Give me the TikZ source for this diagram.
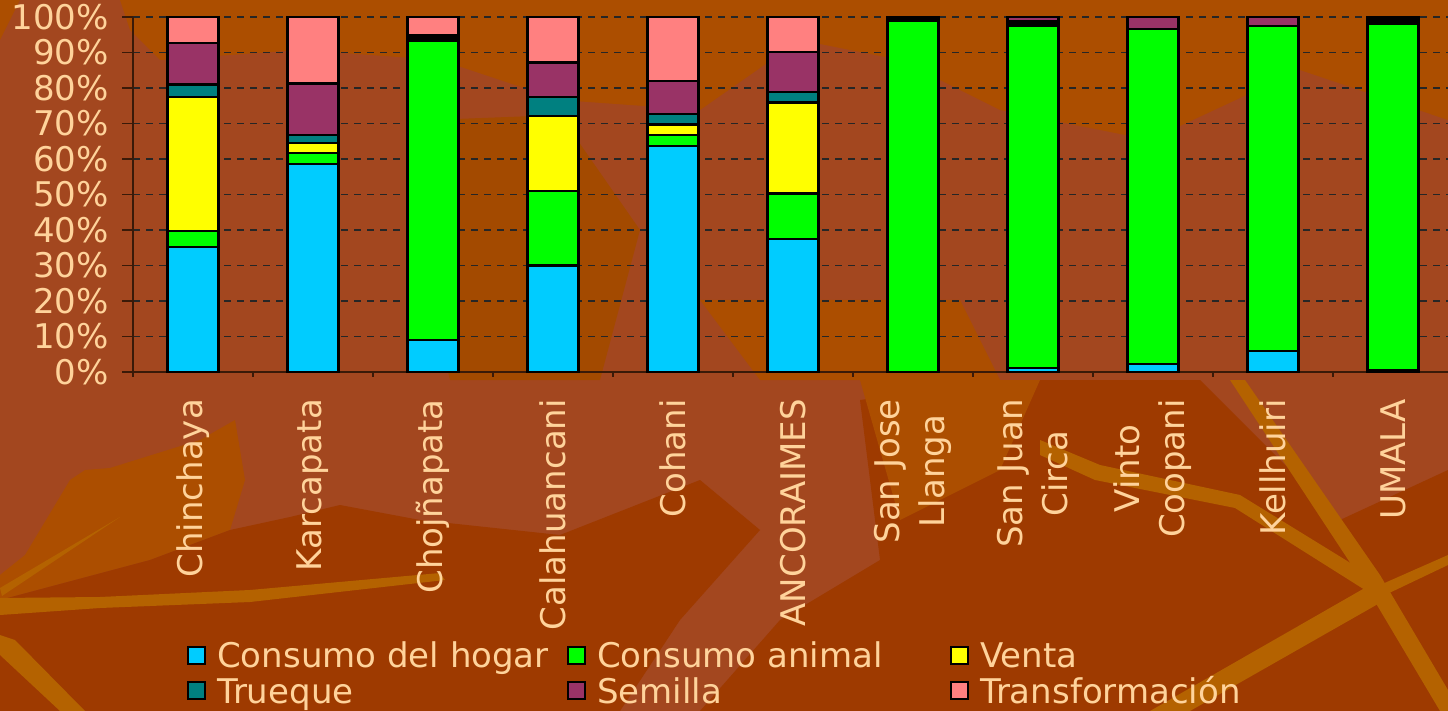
\documentclass[tikz,border=0pt]{standalone}
\usepackage{fontspec}
\setmainfont{DejaVu Sans}
\definecolor{txt}{HTML}{FFD39B}
\definecolor{cBlue}{HTML}{00CCFF}
\definecolor{cGreen}{HTML}{00FF00}
\definecolor{cYellow}{HTML}{FFFF00}
\definecolor{cTeal}{HTML}{008080}
\definecolor{cPurple}{HTML}{993366}
\definecolor{cPink}{HTML}{FF8080}
\definecolor{bgRed}{HTML}{A3471F}
\definecolor{bgOrg}{HTML}{AC4E00}
\definecolor{bgDark}{HTML}{9E3A00}
\definecolor{vein}{HTML}{B46200}
\definecolor{axisc}{HTML}{3A1A08}
\newcommand\barseg[4]{\filldraw[segstyle, fill=#4] ({#1-25.5},{372-3.55*#2}) rectangle ({#1+25.5},{372-3.55*#3});}
\tikzset{
  segstyle/.style={draw=black, line width=2.3pt},
  gridline/.style={draw=black!85, line width=1.1pt, dash pattern=on 7pt off 6pt},
  axisline/.style={draw=axisc, line width=1.2pt},
  ylab/.style={text=txt, anchor=east, inner sep=0pt, font=\fontsize{34}{40}\selectfont},
  catlab/.style={text=txt, anchor=east, rotate=90, inner sep=0pt, align=center, font=\fontsize{34}{45}\selectfont},
  legbox/.style={draw=black, line width=2pt, minimum width=17pt, minimum height=17pt, inner sep=0pt},
  legtxt/.style={text=txt, anchor=base west, inner sep=0pt, font=\fontsize{34}{40}\selectfont},
}
\begin{document}
\begin{tikzpicture}[x=1pt,y=-1pt]
\useasboundingbox (0,0) rectangle (1448,711);
% background
\fill[bgRed] (0,0) rectangle (1448,711);
\fill[bgOrg] (120,0) -- (1448,0) -- (1448,120) -- (1300,70) -- (1150,140) -- (1000,110) -- (900,60) -- (800,40) -- (700,110) -- (560,100) -- (440,60) -- (300,50) -- (160,60) -- (130,30) -- cycle;
\fill[bgOrg] (0,0) -- (20,0) -- (0,40) -- cycle;
\fill[bgOrg!95!black] (430,120) -- (560,115) -- (640,230) -- (600,380) -- (450,380) -- (420,250) -- cycle;
\fill[bgOrg] (700,300) -- (960,300) -- (1000,380) -- (760,380) -- cycle;
\fill[bgOrg] (0,575) -- (25,555) -- (70,480) -- (85,470) -- (110,468) -- (200,440) -- (235,420) -- (245,480) -- (230,530) -- (150,560) -- (0,600) -- cycle;
\fill[bgDark] (0,600) -- (150,560) -- (230,530) -- (290,517) -- (340,505) -- (420,520) -- (560,535) -- (700,480) -- (760,530) -- (680,620) -- (620,711) -- (0,711) -- cycle;
\fill[bgDark] (860,400) -- (1000,380) -- (1200,380) -- (1340,520) -- (1448,470) -- (1448,711) -- (700,711) -- (780,620) -- (880,560) -- cycle;
\fill[bgOrg] (860,380) -- (1040,380) -- (1000,470) -- (900,520) -- cycle;
\fill[vein] (0,598) -- (100,597) -- (250,590) -- (440,573) -- (445,580) -- (250,602) -- (100,608) -- (0,615) -- cycle;
\fill[vein] (0,635) -- (15,640) -- (85,711) -- (60,711) -- (0,655) -- cycle;
\fill[vein] (0,588) -- (120,517) -- (2,596) -- cycle;
\fill[vein] (1230,380) -- (1245,380) -- (1380,575) -- (1448,690) -- (1448,711) -- (1440,711) -- (1368,590) -- cycle;
\fill[vein] (1040,440) -- (1100,465) -- (1240,495) -- (1370,575) -- (1365,590) -- (1235,508) -- (1095,480) -- (1040,455) -- cycle;
\fill[vein] (1150,711) -- (1370,585) -- (1385,600) -- (1190,711) -- cycle;
\fill[vein] (1448,555) -- (1448,565) -- (1385,595) -- (1380,585) -- cycle;
% grid
\foreach \p in {1,...,10} \draw[gridline] (133,{372-35.5*\p}) -- (1448,{372-35.5*\p});
\foreach \p in {0,...,10} \draw[axisline] (122,{372-35.5*\p}) -- (133,{372-35.5*\p});
\draw[axisline] (133,17) -- (133,372);
\draw[axisline] (122,372) -- (1448,372);
\foreach \k in {0,...,10} \draw[axisline] ({133+120*\k},372) -- ({133+120*\k},377);
% y labels
\foreach \p in {0,...,10} {
  \pgfmathtruncatemacro\v{\p*10}
  \node[ylab] (y\p) at (109,{372-35.5*\p}) {\v\%};
}
% bars
\barseg{193}{0}{35.3}{cBlue}\barseg{193}{35.3}{39.8}{cGreen}\barseg{193}{39.8}{77.4}{cYellow}\barseg{193}{77.4}{81}{cTeal}\barseg{193}{81}{92.6}{cPurple}\barseg{193}{92.6}{100}{cPink}
\barseg{313}{0}{58.5}{cBlue}\barseg{313}{58.5}{61.6}{cGreen}\barseg{313}{61.6}{64.6}{cYellow}\barseg{313}{64.6}{66.8}{cTeal}\barseg{313}{66.8}{81.3}{cPurple}\barseg{313}{81.3}{100}{cPink}
\barseg{433}{0}{9}{cBlue}\barseg{433}{9}{93.2}{cGreen}\barseg{433}{93.2}{95}{black}\barseg{433}{95}{100}{cPink}
\barseg{553}{0}{30}{cBlue}\barseg{553}{30}{51}{cGreen}\barseg{553}{51}{72.1}{cYellow}\barseg{553}{72.1}{77.5}{cTeal}\barseg{553}{77.5}{87.2}{cPurple}\barseg{553}{87.2}{100}{cPink}
\barseg{673}{0}{63.7}{cBlue}\barseg{673}{63.7}{66.7}{cGreen}\barseg{673}{66.7}{69.7}{cYellow}\barseg{673}{69.7}{72.7}{cTeal}\barseg{673}{72.7}{81.9}{cPurple}\barseg{673}{81.9}{100}{cPink}
\barseg{793}{0}{37.4}{cBlue}\barseg{793}{37.4}{50.3}{cGreen}\barseg{793}{50.3}{75.9}{cYellow}\barseg{793}{75.9}{78.8}{cTeal}\barseg{793}{78.8}{90.2}{cPurple}\barseg{793}{90.2}{100}{cPink}
\barseg{913}{0}{99}{cGreen}\barseg{913}{99}{100}{black}
\barseg{1033}{0}{1.2}{cBlue}\barseg{1033}{1.2}{97.5}{cGreen}\barseg{1033}{97.5}{98.7}{black}\barseg{1033}{98.7}{100}{cPurple}
\barseg{1153}{0}{2.2}{cBlue}\barseg{1153}{2.2}{96.6}{cGreen}\barseg{1153}{96.6}{100}{cPurple}
\barseg{1273}{0}{5.9}{cBlue}\barseg{1273}{5.9}{97.5}{cGreen}\barseg{1273}{97.5}{100}{cPurple}
\barseg{1393}{0}{0.5}{black}\barseg{1393}{0.5}{98.2}{cGreen}\barseg{1393}{98.2}{100}{black}
% category labels
\foreach \x/\t [count=\i] in {193/Chinchaya, 313/Karcapata, 433/Chojñapata, 553/Calahuancani, 673/Cohani, 793/ANCORAIMES, 913/{San Jose\\Llanga}, 1033/{San Juan\\Circa}, 1153/{Vinto\\Coopani}, 1273/Kellhuiri, 1393/UMALA}
  \node[catlab] (cat\i) at (\x,399) {\t};
% legend
\node[legbox, fill=cBlue] (lb1) at (196,655) {};
\node[legtxt] (lt1) at (217,667) {Consumo del hogar};
\node[legbox, fill=cGreen] (lb2) at (576,655) {};
\node[legtxt] (lt2) at (597,667) {Consumo animal};
\node[legbox, fill=cYellow] (lb3) at (959,655) {};
\node[legtxt] (lt3) at (980,667) {Venta};
\node[legbox, fill=cTeal] (lb4) at (196,690) {};
\node[legtxt] (lt4) at (217,703) {Trueque};
\node[legbox, fill=cPurple] (lb5) at (576,690) {};
\node[legtxt] (lt5) at (597,703) {Semilla};
\node[legbox, fill=cPink] (lb6) at (959,690) {};
\node[legtxt] (lt6) at (980,703) {Transformación};
\end{tikzpicture}
\end{document}
